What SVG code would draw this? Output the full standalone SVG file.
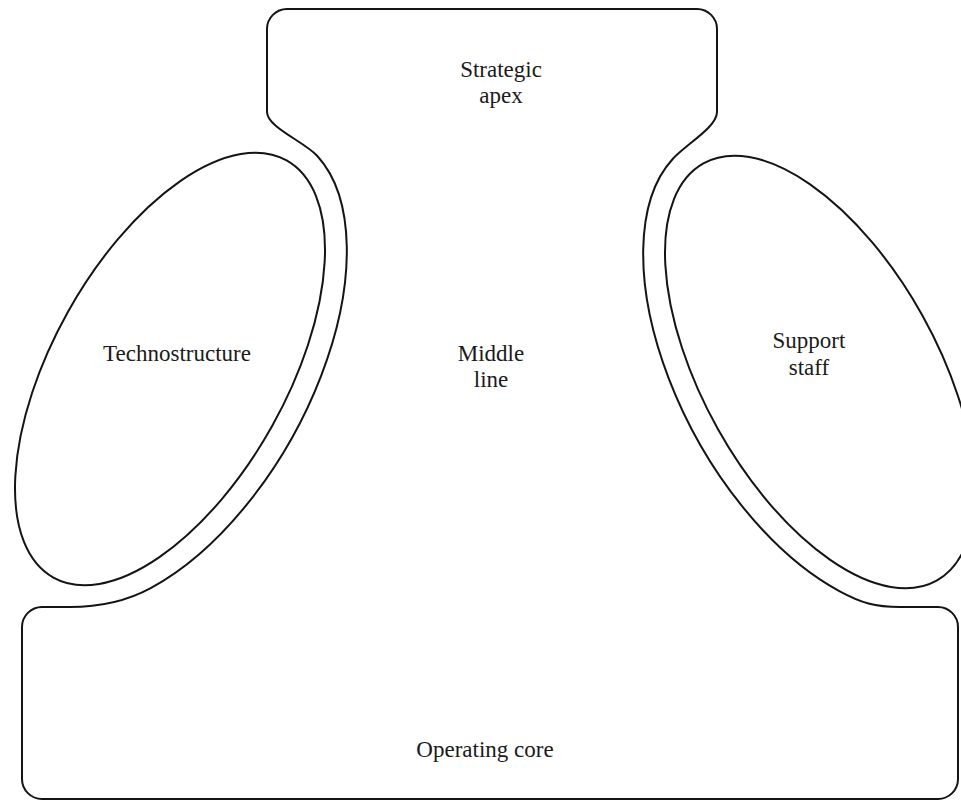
<svg xmlns="http://www.w3.org/2000/svg" width="961" height="804" viewBox="0 0 961 804">
<style>
.ln{fill:none;stroke:#141414;stroke-width:2;stroke-linejoin:round}
.t{font-family:"Liberation Serif","Times New Roman",serif;font-size:23px;fill:#1a1a1a;text-anchor:middle}
</style>
<rect width="961" height="804" fill="#ffffff"/>
<g id="middle-line">
<path class="ln" d="M 267,112 C 267,127 303.5,141.3 317.1,155.7 A 140 262 29.2 0 1 150.7,588.1 C 124.3,602.4 95,607 70,607 H 42 A 20 20 0 0 0 22,627 V 779 A 20 20 0 0 0 42,799 H 938 A 20 20 0 0 0 958,779 V 627 A 20 20 0 0 0 938,607 H 900 C 875,607 861.3,603 839.3,591.1 A 140 262 -29.2 0 1 672.9,158.7 C 686.4,144 717,127 717,112 V 29 A 20 20 0 0 0 697,9 H 287 A 20 20 0 0 0 267,29 Z"/>
<text class="t" x="491" y="361">Middle</text>
<text class="t" x="491" y="387">line</text>
</g>
<g id="strategic-apex">
<text class="t" x="501" y="77">Strategic</text>
<text class="t" x="501" y="103">apex</text>
</g>
<g id="technostructure">
<ellipse class="ln" cx="170" cy="369" rx="117" ry="239" transform="rotate(29.2 170 369)"/>
<text class="t" x="177" y="361">Technostructure</text>
</g>
<g id="support-staff">
<ellipse class="ln" cx="820" cy="372" rx="117" ry="239" transform="rotate(-29.2 820 372)"/>
<text class="t" x="809" y="348">Support</text>
<text class="t" x="809" y="375">staff</text>
</g>
<g id="operating-core">
<text class="t" x="485" y="757">Operating core</text>
</g>
<g id="connectors"></g>
</svg>
